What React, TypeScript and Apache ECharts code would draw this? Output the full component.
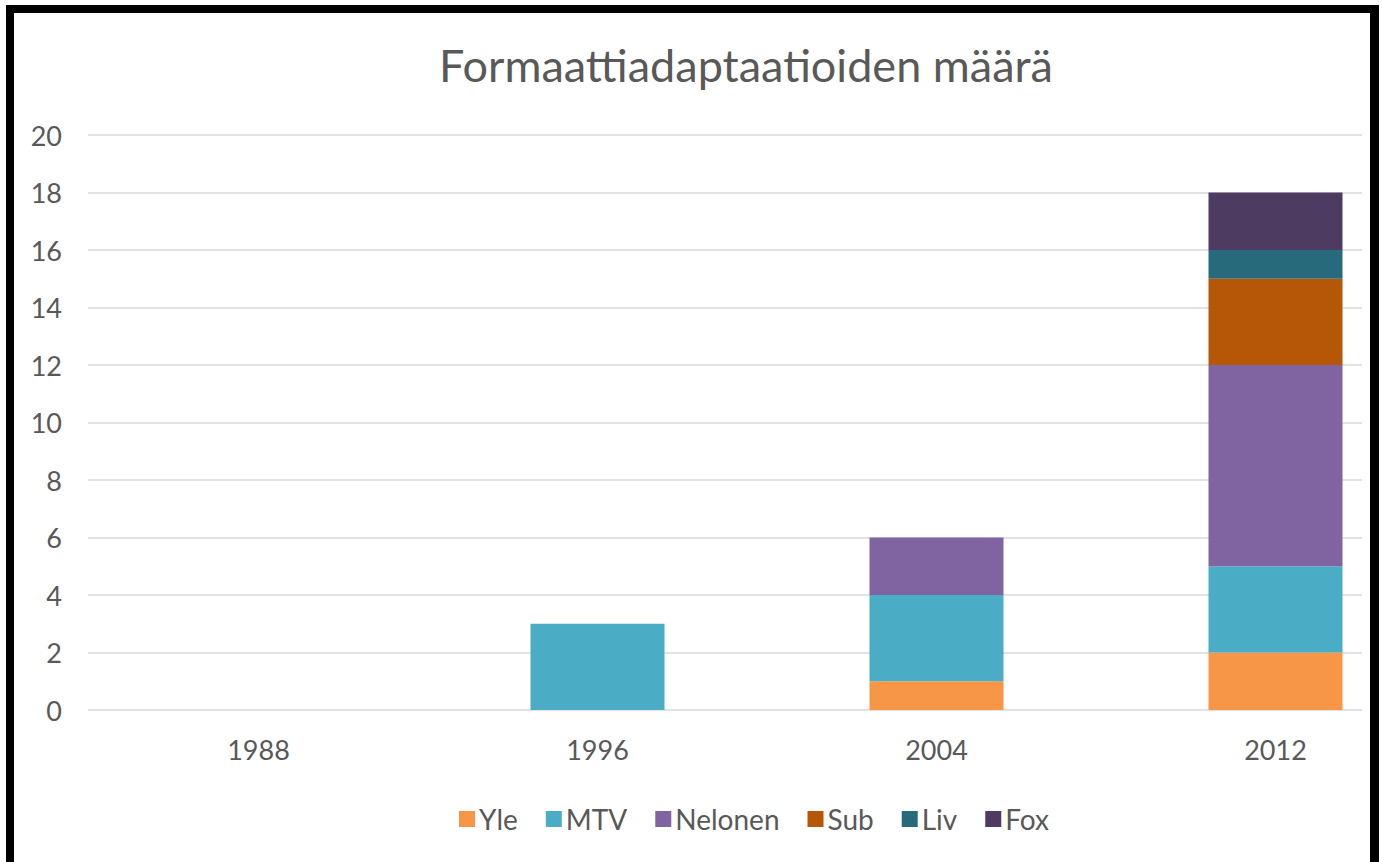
import React, { useEffect, useRef } from "react";
import * as echarts from "echarts";

const titleText = "Formaattiadaptaatioiden määrä";
const categories = ["1988", "1996", "2004", "2012"];
const seriesNames = ["Yle", "MTV", "Nelonen", "Sub", "Liv", "Fox"];
const yle = [0, 0, 1, 2];
const mtv = [0, 3, 3, 3];
const nelonen = [0, 0, 2, 7];
const sub = [0, 0, 0, 3];
const liv = [0, 0, 0, 1];
const fox = [0, 0, 0, 2];
const colors = ["#F79646", "#4BACC6", "#8064A2", "#B65708", "#276A7C", "#4D3B62"];
const yMin = 0;
const yMax = 20;
const yInterval = 2;

const FONT = "Lato, 'Open Sans', sans-serif";
const TEXT = "#595959";

export default function App() {
  const ref = useRef<HTMLDivElement>(null);
  useEffect(() => {
    if (!ref.current) return;
    const chart = echarts.init(ref.current, null, { renderer: "svg" });
    const values = [yle, mtv, nelonen, sub, liv, fox];
    const option: any = {
      animation: false,
      backgroundColor: "#ffffff",
      color: colors,
      title: {
        text: titleText,
        left: 434,
        top: 37,
        textStyle: { fontFamily: FONT, fontSize: 45, fontWeight: "normal", color: TEXT },
      },
      legend: {
        data: seriesNames,
        left: 454,
        top: 800,
        icon: "rect",
        itemWidth: 16,
        itemHeight: 16,
        itemGap: 28,
        textStyle: { fontFamily: FONT, fontSize: 28, color: TEXT, padding: [0, 0, 0, -1] },
      },
      grid: [
        { left: 88, right: 20, top: 135, bottom: 152, outerBoundsMode: "none" },
        { left: 89, width: 1356, top: 135, bottom: 152, outerBoundsMode: "none" },
      ],
      xAxis: [
        { type: "category", gridIndex: 0, data: categories, show: false },
        {
          type: "category",
          gridIndex: 1,
          data: categories,
          axisLine: { show: false },
          axisTick: { show: false },
          axisLabel: { fontFamily: FONT, fontSize: 27, color: TEXT, margin: 26 },
        },
      ],
      yAxis: [
        {
          type: "value",
          gridIndex: 0,
          min: yMin,
          max: yMax,
          interval: yInterval,
          axisLine: { show: false },
          axisTick: { show: false },
          splitLine: { lineStyle: { color: "#d9d9d9", width: 1.5 } },
          axisLabel: { fontFamily: FONT, fontSize: 27, color: TEXT, margin: 26 },
        },
        {
          type: "value",
          gridIndex: 1,
          min: yMin,
          max: yMax,
          interval: yInterval,
          show: false,
        },
      ],
      series: seriesNames.map((name, i) => ({
        name,
        type: "bar",
        stack: "total",
        xAxisIndex: 1,
        yAxisIndex: 1,
        barWidth: 134,
        data: values[i],
        itemStyle: { color: colors[i] },
      })),
      graphic: [
        { type: "rect", shape: { x: 6, y: 5, width: 1373, height: 8 }, style: { fill: "#000" } },
        { type: "rect", shape: { x: 6, y: 5, width: 8, height: 857 }, style: { fill: "#000" } },
        { type: "rect", shape: { x: 1370, y: 5, width: 9, height: 857 }, style: { fill: "#000" } },
      ],
    };
    chart.setOption(option);
    return () => chart.dispose();
  }, []);
  return (
    <div
      ref={ref}
      style={{ position: "fixed", left: 0, top: 0, width: 1382, height: 862 }}
    />
  );
}
